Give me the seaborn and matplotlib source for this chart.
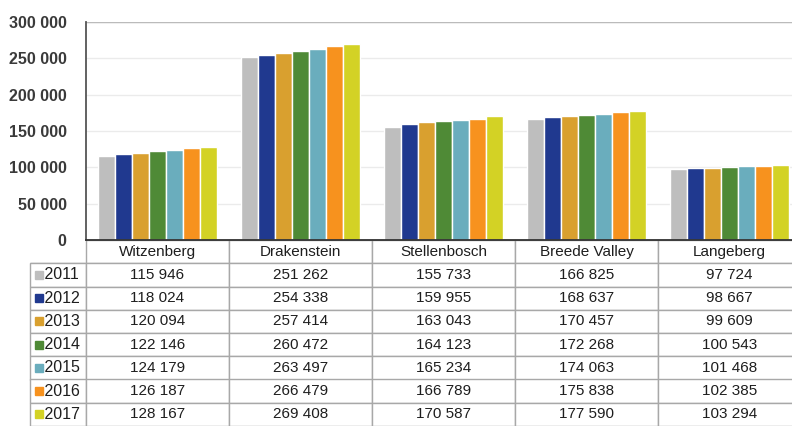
import pandas as pd
import matplotlib.pyplot as plt
import seaborn as sns
from matplotlib.ticker import FuncFormatter

# data
municipalities = ['Witzenberg', 'Drakenstein', 'Stellenbosch', 'Breede Valley', 'Langeberg']
years = ['2011', '2012', '2013', '2014', '2015', '2016', '2017']
pop_2011 = [115946, 251262, 155733, 166825, 97724]
pop_2012 = [118024, 254338, 159955, 168637, 98667]
pop_2013 = [120094, 257414, 163043, 170457, 99609]
pop_2014 = [122146, 260472, 164123, 172268, 100543]
pop_2015 = [124179, 263497, 165234, 174063, 101468]
pop_2016 = [126187, 266479, 166789, 175838, 102385]
pop_2017 = [128167, 269408, 170587, 177590, 103294]
colors = ['#BEBEBE', '#20398F', '#D9A02F', '#4F8A36', '#6AADBD', '#F7921E', '#D3D225']

series = [pop_2011, pop_2012, pop_2013, pop_2014, pop_2015, pop_2016, pop_2017]
df = pd.DataFrame(
    [(m, y, v) for y, vals in zip(years, series) for m, v in zip(municipalities, vals)],
    columns=['municipality', 'year', 'population'])

sns.set_style('white')
plt.rcParams['font.family'] = ['Liberation Sans', 'DejaVu Sans']

W, H = 792, 426
fig = plt.figure(figsize=(W / 100, H / 100), dpi=100)
# axes spans past the right edge, like the cropped original
ax_l, ax_r, ax_t, ax_b = 86, 801, 22, 240
ax = fig.add_axes([ax_l / W, 1 - ax_b / H, (ax_r - ax_l) / W, (ax_b - ax_t) / H])

sns.barplot(data=df, x='municipality', y='population', hue='year',
            palette=colors, width=0.83, gap=0, saturation=1, ax=ax, legend=False)

ax.set_ylim(0, 300000)
ax.set_xlim(-0.5, len(municipalities) - 0.5)
ax.set_yticks(range(0, 300001, 50000))
ax.yaxis.set_major_formatter(FuncFormatter(lambda v, p: f'{int(v):,}'.replace(',', ' ')))
ax.tick_params(axis='y', labelsize=11.5, colors='#3A3A3A', length=0, pad=14)
for t in ax.get_yticklabels():
    t.set_fontweight('bold')
ax.set_xticks([])
ax.set_xlabel('')
ax.set_ylabel('')
ax.yaxis.grid(True, color='#EBEBEB', lw=1)
ax.set_axisbelow(True)
for s in ['top', 'right']:
    ax.spines[s].set_visible(False)
ax.spines['left'].set_color('#555555')
ax.spines['left'].set_linewidth(1.3)
ax.spines['bottom'].set_color('#333333')
ax.spines['bottom'].set_linewidth(1.3)
ax.axhline(300000, color='#BBBBBB', lw=1)

# data table below the axes
cell_text = []
for y, vals in zip(years, series):
    cell_text.append(['   ' + y] + [f'{v:,}'.replace(',', ' ') for v in vals])
col_labels = [''] + municipalities

lab_w = 56
tab_left = 30
tab_top, tab_bot = 240, 426
ax_w = ax_r - ax_l
ax_h = ax_b - ax_t
table = ax.table(cellText=cell_text, colLabels=col_labels,
                 colWidths=[lab_w] + [143] * len(municipalities),
                 cellLoc='center',
                 bbox=[(tab_left - ax_l) / ax_w, -(tab_bot - tab_top) / ax_h,
                       (ax_r - tab_left) / ax_w, (tab_bot - tab_top) / ax_h])
table.auto_set_font_size(False)
table.set_fontsize(11)
for (r, c), cell in table.get_celld().items():
    cell.set_edgecolor('#A8A8A8')
    cell.set_linewidth(1)
    cell.get_text().set_color('#1E1E1E')
    if r == 0 and c == 0:
        cell.visible_edges = 'B'
    if c == 0:
        cell.get_text().set_ha('left')
        cell.get_text().set_fontsize(11.5)
        cell.PAD = 0.02

# legend keys in the label column
n_rows = len(years) + 1
row_h = (tab_bot - tab_top) / n_rows
for i, col in enumerate(colors):
    yc = tab_top + row_h * (i + 1.5)
    fig.patches.append(plt.Rectangle(((tab_left + 5) / W, 1 - (yc + 4) / H), 8 / W, 8 / H,
                                     color=col, transform=fig.transFigure, figure=fig))

fig.savefig('out.png', dpi=100)
